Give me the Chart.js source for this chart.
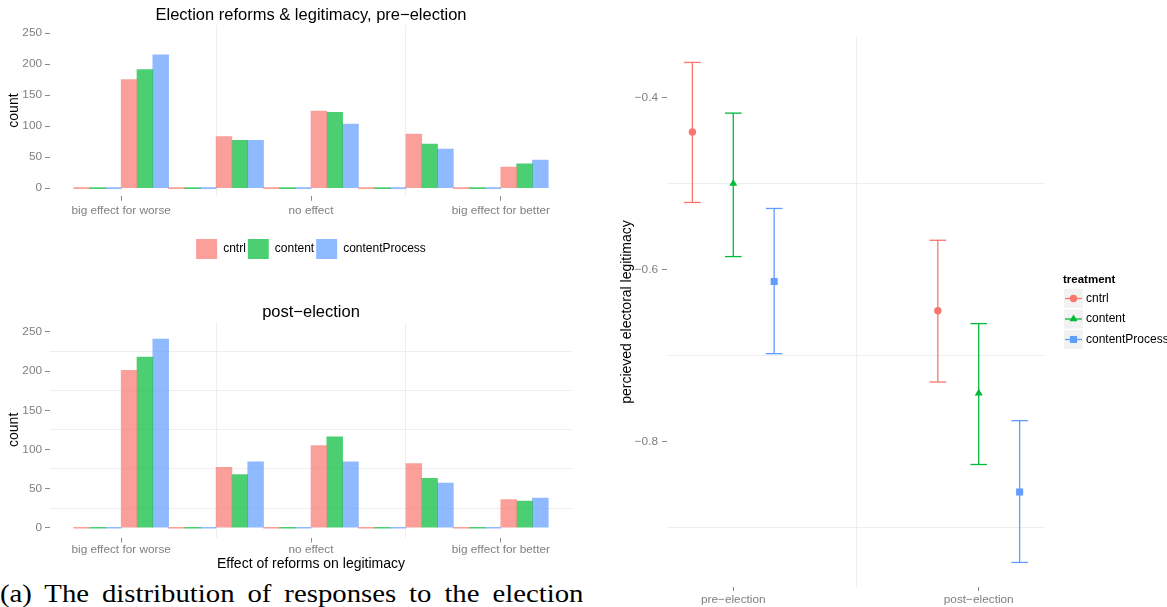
<!DOCTYPE html>
<html>
<head>
<meta charset="utf-8">
<script src="https://cdn.jsdelivr.net/npm/chart.js@4/dist/chart.umd.min.js"></script>
<style>
  body { margin: 0; background: #fff; width: 1167px; height: 607px; overflow: hidden; position: relative; }
  canvas { position: absolute; }
  #caption { position: absolute; left: 0; top: 581px; width: 583px; height: 26px; overflow: hidden; }
  #caption span {
    display: inline-block; white-space: nowrap; transform: scaleX(1.15); transform-origin: 0 0;
    font: 25px/25px 'Liberation Serif', 'Times New Roman', serif; word-spacing: 5px; color: #000;
  }
</style>
</head>
<body>
<canvas id="pre" width="580" height="270" style="left:0;top:0"></canvas>
<canvas id="post" width="580" height="285" style="left:0;top:290px"></canvas>
<canvas id="legit" width="577" height="607" style="left:590px;top:0"></canvas>
<div id="caption"><span>(a) The distribution of responses to the election</span></div>
<script>
// histogram bins (x positions of the bars) and their counts per treatment
const bins = [1, 2, 3, 4, 5, 6, 7, 8, 9, 10];
const treatments = ["cntrl", "content", "contentProcess"];

const preCntrl = [0, 175, 0, 83, 0, 124, 0, 87, 0, 34];
const preContent = [0, 191, 0, 77, 0, 122, 0, 71, 0, 39];
const preProcess = [0, 215, 0, 77, 0, 103, 0, 63, 0, 45];

const postCntrl = [0, 201, 0, 77, 0, 105, 0, 82, 0, 36];
const postContent = [0, 218, 0, 68, 0, 116, 0, 63, 0, 34];
const postProcess = [0, 241, 0, 84, 0, 84, 0, 57, 0, 38];

const effectTicks = [1.5, 3.5, 5.5, 7.5, 9.5];
const effectLabels = ["big effect for worse", "", "no effect", "", "big effect for better"];
const countTicks = [0, 25, 50, 75, 100, 125, 150, 175, 200, 225, 250];

// perceived legitimacy: mean and interval per period
const periodTicks = [1, 1.5, 2];
const periodLabels = ["pre\u2212election", "", "post\u2212election"];
const legitTicks = [-0.9, -0.8, -0.7, -0.6, -0.5, -0.4];

const cntrlMean = [-0.440, -0.648];
const cntrlLow = [-0.522, -0.731];
const cntrlHigh = [-0.359, -0.566];
const contentMean = [-0.500, -0.744];
const contentLow = [-0.585, -0.827];
const contentHigh = [-0.418, -0.663];
const processMean = [-0.614, -0.859];
const processLow = [-0.698, -0.941];
const processHigh = [-0.529, -0.776];

const hue = ["#F8766D", "#00BA38", "#619CFF"];
const barFill = ["rgba(248,118,109,0.7)", "rgba(0,186,56,0.7)", "rgba(97,156,255,0.7)"];
const markers = ["circle", "triangle", "rect"];
const radii = [3.7, 4.6, 5];
const DODGE = 1 / 6;

const GREY_TEXT = "#7f7f7f";
const GRID = "#eeeeee";
const TICK = "#8a8a8a";
const TICK_FONT = { size: 11.8 };
const AXIS_TITLE_FONT = { size: 14 };

Chart.defaults.font.family = "'Liberation Sans', Arial, sans-serif";
Chart.defaults.animation = false;
Chart.defaults.plugins.tooltip.enabled = false;

function histogram(id, titleText, series, opts) {
  return new Chart(document.getElementById(id), {
    type: "bar",
    data: {
      datasets: series.map((vals, k) => ({
        label: treatments[k],
        data: bins.map((b, i) => ({ x: b, y: vals[i] })),
        backgroundColor: barFill[k],
        borderWidth: 0,
        minBarLength: 1,
        categoryPercentage: 1,
        barPercentage: 1,
      })),
    },
    options: {
      responsive: false,
      layout: { padding: { left: 0, right: 8, top: 0, bottom: opts.padBottom } },
      plugins: {
        title: {
          display: true, text: titleText, fullSize: false, color: "#000",
          font: { size: 16.5, weight: "normal" }, padding: opts.titlePad,
        },
        legend: {
          display: opts.legend, position: "bottom", fullSize: false,
          labels: { boxWidth: 21, boxHeight: 20, padding: 2, color: "#000", font: { size: 12 } },
        },
      },
      scales: {
        x: {
          type: "linear", min: 0, max: 11, offset: false,
          afterBuildTicks: (s) => { s.ticks = effectTicks.map((v) => ({ value: v })); },
          afterFit: (s) => { s.height = opts.xHeight; },
          ticks: {
            autoSkip: false, maxRotation: 0, padding: opts.xPad, color: GREY_TEXT,
            font: TICK_FONT, callback: (v, i) => effectLabels[i],
          },
          grid: {
            offset: false, tickLength: 5,
            color: (c) => (c.index % 2 ? GRID : "transparent"),
            tickColor: (c) => (c.index % 2 ? "transparent" : TICK),
          },
          border: { display: false },
          title: {
            display: !!opts.xTitle, text: opts.xTitle, color: "#000",
            font: AXIS_TITLE_FONT, padding: { top: 0, bottom: 2.6 },
          },
        },
        y: {
          min: -12.5, max: 262.5,
          afterBuildTicks: (s) => { s.ticks = countTicks.map((v) => ({ value: v })); },
          afterFit: (s) => { s.width = 50; },
          ticks: {
            padding: 3, color: GREY_TEXT, font: TICK_FONT,
            callback: (v) => (v % 50 === 0 ? String(v) : ""),
          },
          grid: {
            tickLength: 5,
            color: (c) => (c.tick && c.tick.value % 50 ? GRID : "transparent"),
            tickColor: (c) => (c.tick && c.tick.value % 50 === 0 ? TICK : "transparent"),
          },
          border: { display: false },
          title: {
            display: true, text: "count", color: "#000",
            font: AXIS_TITLE_FONT, padding: { top: 5.6, bottom: 0 },
          },
        },
      },
    },
  });
}

histogram("pre", "Election reforms & legitimacy, pre\u2212election",
  [preCntrl, preContent, preProcess],
  { legend: true, padBottom: 1, titlePad: { top: 5.5, bottom: 0 }, xHeight: 41.2, xPad: 2.5 });

histogram("post", "post\u2212election",
  [postCntrl, postContent, postProcess],
  { legend: false, padBottom: 0, titlePad: { top: 12.4, bottom: 0 }, xHeight: 37.5, xPad: 0.5,
    xTitle: "Effect of reforms on legitimacy" });

// legend of the right panel: grey keys with line + marker
const treatmentKey = {
  id: "treatmentKey",
  afterDraw(chart) {
    const { ctx } = chart;
    const x0 = chart.chartArea.right + 18;
    ctx.save();
    ctx.textBaseline = "middle";
    ctx.textAlign = "left";
    ctx.fillStyle = "#000";
    ctx.font = "bold 11.5px 'Liberation Sans', Arial, sans-serif";
    ctx.fillText("treatment", x0, 280);
    treatments.forEach((t, k) => {
      const top = 289 + k * 20.5;
      const cy = top + 9.5;
      ctx.fillStyle = "#f2f2f2";
      ctx.fillRect(x0 + 1, top, 19, 19);
      ctx.strokeStyle = hue[k];
      ctx.lineWidth = 1.3;
      ctx.beginPath();
      ctx.moveTo(x0 + 2, cy);
      ctx.lineTo(x0 + 19, cy);
      ctx.stroke();
      ctx.fillStyle = hue[k];
      Chart.helpers.drawPoint(ctx, { pointStyle: markers[k], radius: radii[k], borderWidth: 0 }, x0 + 10.5, cy);
      ctx.fillStyle = "#000";
      ctx.font = "12px 'Liberation Sans', Arial, sans-serif";
      ctx.fillText(t, x0 + 23, cy);
    });
    ctx.restore();
  },
};

const estimates = [
  [cntrlMean, cntrlLow, cntrlHigh],
  [contentMean, contentLow, contentHigh],
  [processMean, processLow, processHigh],
];

const legitSets = [];
estimates.forEach(([mean, low, high], k) => {
  const px = (i) => i + 1 + (k - 1) * DODGE;
  legitSets.push({
    type: "line",
    label: treatments[k] + " interval",
    data: mean.flatMap((_, i) => [
      { x: px(i), y: low[i] },
      { x: px(i), y: high[i] },
      { x: px(i), y: null },
    ]),
    borderColor: hue[k],
    borderWidth: 1.3,
    pointStyle: "line",
    pointRadius: 8.3,
    pointBorderWidth: 1.3,
    pointBorderColor: hue[k],
    spanGaps: false,
    order: 2,
  });
  legitSets.push({
    type: "scatter",
    label: treatments[k],
    data: mean.map((v, i) => ({ x: px(i), y: v })),
    pointStyle: markers[k],
    pointRadius: radii[k],
    backgroundColor: hue[k],
    borderWidth: 0,
    order: 1,
  });
});

new Chart(document.getElementById("legit"), {
  type: "scatter",
  data: { datasets: legitSets },
  options: {
    responsive: false,
    layout: { padding: { left: 0, right: 122, top: 37, bottom: 0 } },
    plugins: { legend: { display: false } },
    scales: {
      x: {
        type: "linear", min: 0.73, max: 2.27,
        afterBuildTicks: (s) => { s.ticks = periodTicks.map((v) => ({ value: v })); },
        afterFit: (s) => { s.height = 20; },
        ticks: {
          autoSkip: false, maxRotation: 0, padding: 1.5, color: GREY_TEXT,
          font: TICK_FONT, callback: (v, i) => periodLabels[i],
        },
        grid: {
          tickLength: 4,
          color: (c) => (c.index === 1 ? GRID : "transparent"),
          tickColor: (c) => (c.index === 1 ? "transparent" : TICK),
        },
        border: { display: false },
      },
      y: {
        min: -0.9696, max: -0.3294,
        afterBuildTicks: (s) => { s.ticks = legitTicks.map((v) => ({ value: v })); },
        afterFit: (s) => { s.width = 77; },
        ticks: {
          padding: 4, color: GREY_TEXT, font: TICK_FONT,
          callback: (v, i) => (i % 2 ? "\u2212" + Math.abs(v).toFixed(1) : ""),
        },
        grid: {
          tickLength: 5,
          color: (c) => (c.index % 2 ? "transparent" : GRID),
          tickColor: (c) => (c.index % 2 ? TICK : "transparent"),
        },
        border: { display: false },
        title: {
          display: true, text: "percieved electoral legitimacy", color: "#000",
          font: AXIS_TITLE_FONT, padding: { top: 28.6, bottom: 0 },
        },
      },
    },
  },
  plugins: [treatmentKey],
});
</script>
</body>
</html>
